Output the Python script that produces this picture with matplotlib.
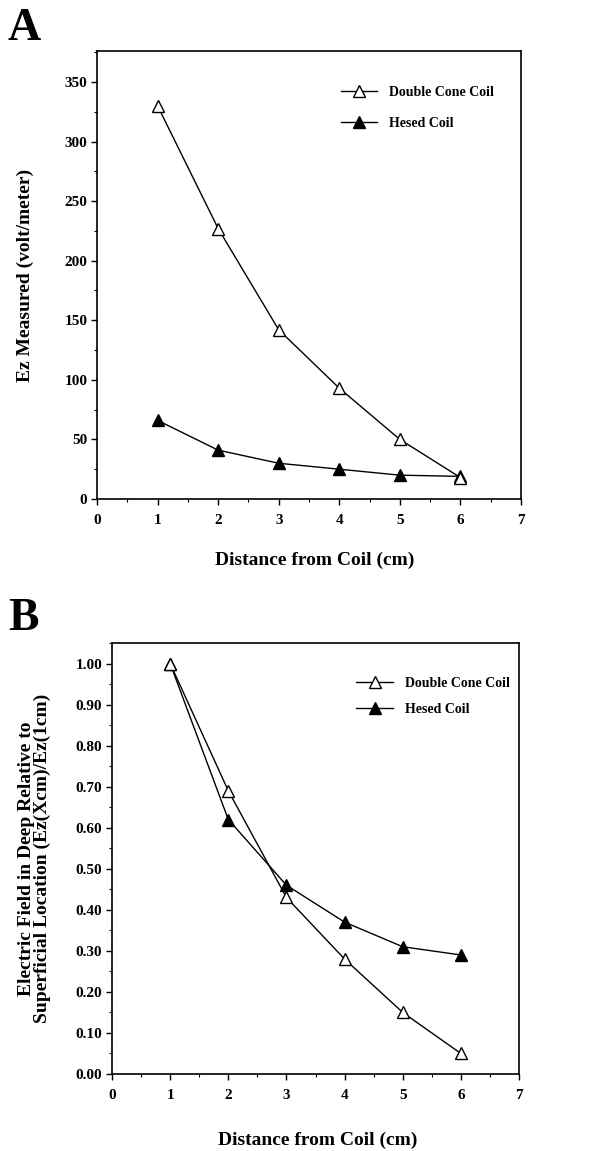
import numpy as np
import matplotlib.pyplot as plt
from matplotlib.ticker import MultipleLocator, FormatStrFormatter

plt.rcParams['font.family'] = ['Liberation Serif', 'DejaVu Serif']
plt.rcParams['font.weight'] = 'bold'

# data
distance = [1, 2, 3, 4, 5, 6]
ez_double_cone = [330, 227, 142, 93, 50, 18]
ez_hesed = [66, 41, 30, 25, 20, 19]
rel_double_cone = [1.00, 0.69, 0.43, 0.28, 0.15, 0.05]
rel_hesed = [1.00, 0.62, 0.46, 0.37, 0.31, 0.29]

W, H = 606, 1151
fig = plt.figure(figsize=(W / 100, H / 100), dpi=100)

def px_axes(l, t, r, b):
    return fig.add_axes([l / W, 1 - b / H, (r - l) / W, (b - t) / H])

def style(ax):
    for s in ax.spines.values():
        s.set_linewidth(1.2)
    ax.tick_params(which='major', direction='out', length=4, width=1, labelsize=11, pad=3)
    ax.tick_params(which='minor', direction='out', length=2, width=0.8)
    ax.tick_params(axis='x', pad=7)
    ax.xaxis.set_major_locator(MultipleLocator(1))
    ax.xaxis.set_minor_locator(MultipleLocator(0.5))
    ax.set_xlim(0, 7)
    for lab in ax.get_xticklabels() + ax.get_yticklabels():
        lab.set_fontweight('bold')

mk = dict(marker='^', markersize=9, color='black', linewidth=1, markeredgewidth=1)

# panel A
axA = px_axes(97, 51, 521, 499)
axA.plot(distance, ez_hesed, markerfacecolor='black', label='Hesed Coil', **mk)
axA.plot(distance, ez_double_cone, markerfacecolor='white', label='Double Cone Coil', **mk)
axA.set_ylim(0, 376)
axA.yaxis.set_major_locator(MultipleLocator(50))
axA.yaxis.set_minor_locator(MultipleLocator(25))
style(axA)
axA.set_ylabel('Ez Measured (volt/meter)', fontsize=14, fontweight='bold', labelpad=22)
fig.text(315 / W, 1 - 560 / H, 'Distance from Coil (cm)', fontsize=14, fontweight='bold',
         ha='center', va='center')
h, l = axA.get_legend_handles_labels()
axA.legend(h[::-1], l[::-1], loc='upper left', bbox_to_anchor=(0.545, 0.95), frameon=False,
           prop={'size': 10, 'weight': 'bold'}, handlelength=2.6, labelspacing=1.3, handletextpad=0.9)
fig.text(8 / W, 1 - 40 / H, 'A', fontsize=33, fontweight='bold')

# panel B
axB = px_axes(112, 643, 519, 1074)
axB.plot(distance, rel_hesed, markerfacecolor='black', label='Hesed Coil', **mk)
axB.plot(distance, rel_double_cone, markerfacecolor='white', label='Double Cone Coil', **mk)
axB.set_ylim(0, 1.05)
axB.yaxis.set_major_locator(MultipleLocator(0.1))
axB.yaxis.set_minor_locator(MultipleLocator(0.05))
axB.yaxis.set_major_formatter(FormatStrFormatter('%.2f'))
style(axB)
axB.set_ylabel('Electric Field in Deep Relative to\nSuperficial Location (Ez(Xcm)/Ez(1cm)',
               fontsize=14, fontweight='bold', labelpad=18, linespacing=0.9)
fig.text(318 / W, 1 - 1140 / H, 'Distance from Coil (cm)', fontsize=14, fontweight='bold',
         ha='center', va='center')
h, l = axB.get_legend_handles_labels()
axB.legend(h[::-1], l[::-1], loc='upper left', bbox_to_anchor=(0.57, 0.95), frameon=False,
           prop={'size': 10, 'weight': 'bold'}, handlelength=2.6, labelspacing=0.9, handletextpad=0.9)
fig.text(8 / W, 1 - 630 / H, 'B', fontsize=33, fontweight='bold')

fig.savefig('out.png', dpi=100)
